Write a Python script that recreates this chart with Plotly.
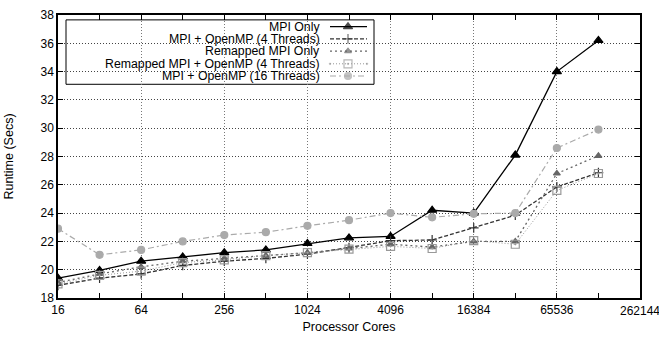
import math
import plotly.graph_objects as go

# Runtime measurements (seconds) versus processor cores
cores = [16, 32, 64, 128, 256, 512, 1024, 2048, 4096, 8192, 16384, 32768, 65536, 131072]
mpi_only = [19.4, 19.95, 20.6, 20.9, 21.2, 21.4, 21.85, 22.25, 22.35, 24.2, 24.0, 28.1, 34.0, 36.2]
mpi_omp4 = [18.9, 19.4, 19.7, 20.3, 20.6, 20.8, 21.1, 21.55, 22.05, 22.1, 22.95, 23.85, 25.85, 26.85]
remap_mpi = [19.1, 19.7, 20.2, 20.6, 20.8, 21.0, 21.2, 21.5, 21.8, 21.6, 22.0, 22.0, 26.8, 28.05]
remap_omp4 = [19.0, 19.6, 19.9, 20.5, 20.7, 21.0, 21.2, 21.45, 21.65, 21.5, 22.05, 21.8, 25.6, 26.8]
mpi_omp16 = [22.9, 21.05, 21.4, 22.0, 22.45, 22.65, 23.1, 23.5, 24.0, 23.7, 23.95, 24.0, 28.6, 29.9]

major_x = [16, 64, 256, 1024, 4096, 16384, 65536, 262144]
minor_x = [32, 128, 512, 2048, 8192, 32768, 131072]
y_ticks = list(range(18, 39, 2))

FONT = "Liberation Sans, Arial, Helvetica, sans-serif"

series = [
    dict(name="MPI Only", y=mpi_only, color="#000000", dash="solid",
         symbol="triangle-up", size=8, width=1.3),
    dict(name="MPI + OpenMP (4 Threads)", y=mpi_omp4, color="#333333", dash="4px,2px",
         symbol="cross-thin-open", size=7, width=1.3),
    dict(name="Remapped MPI Only", y=remap_mpi, color="#666666", dash="2px,3px",
         symbol="triangle-up", size=6, width=1.3),
    dict(name="Remapped MPI + OpenMP (4 Threads)", y=remap_omp4, color="#999999", dash="1px,2px",
         symbol="square-open-dot", size=8, width=1.0),
    dict(name="MPI + OpenMP (16 Threads)", y=mpi_omp16, color="#aaaaaa", dash="6px,3px,2px,3px",
         symbol="circle", size=7, width=1.2),
]

fig = go.Figure()

for s in series:
    fig.add_trace(go.Scatter(
        x=cores, y=s["y"], name=s["name"], mode="lines+markers",
        line=dict(color=s["color"], dash=s["dash"], width=s["width"]),
        marker=dict(symbol=s["symbol"], size=s["size"], color=s["color"],
                    line=dict(color=s["color"], width=1.2)),
        showlegend=False,
    ))

# Key box drawn in pixel-like coordinates on an overlay axis pair
L, R, T, B = 58, 640, 8, 298
box = dict(x0=66, x1=374, y0=13, y1=79)
row_y = [20, 32.5, 45, 58, 70.5]
text_right = 321
sample_x = [330, 348, 367]

fig.add_shape(type="rect", xref="x3", yref="y3", x0=box["x0"], x1=box["x1"],
              y0=box["y0"], y1=box["y1"], line=dict(color="black", width=1),
              fillcolor="white", layer="below")

for s, ry in zip(series, row_y):
    fig.add_trace(go.Scatter(
        x=sample_x, y=[ry] * 3, mode="lines+markers", xaxis="x3", yaxis="y3",
        line=dict(color=s["color"], dash=s["dash"], width=s["width"]),
        marker=dict(symbol=s["symbol"], size=[0, s["size"], 0], color=s["color"],
                    line=dict(color=s["color"], width=1.2)),
        showlegend=False, hoverinfo="skip",
    ))
    fig.add_annotation(x=text_right, y=ry, xref="x3", yref="y3", text=s["name"],
                       showarrow=False, xanchor="right", yanchor="middle", borderpad=0,
                       font=dict(family=FONT, size=12.3, color="black"))

# The last x tick label sits on the right frame edge and runs off the page
fig.add_annotation(x=math.log10(major_x[-1]), y=0, xref="x", yref="paper",
                   text=str(major_x[-1]), showarrow=False, xanchor="center",
                   yanchor="top", yshift=-4, font=dict(family=FONT, size=12, color="black"))

fig.update_layout(
    width=659, height=343,
    margin=dict(l=L, r=659 - R, t=T, b=343 - B),
    paper_bgcolor="white", plot_bgcolor="white",
    font=dict(family=FONT, size=12, color="black"),
    showlegend=False,
    xaxis=dict(
        type="log", range=[1.20412, 5.41854],
        tickvals=major_x, ticktext=[str(v) for v in major_x[:-1]] + [""],
        ticks="inside", ticklen=5, tickcolor="black",
        showline=True, linecolor="black", linewidth=1.5, mirror="ticks",
        showgrid=True, gridcolor="#777777", griddash="1px,2px", gridwidth=1,
        minor=dict(tickvals=minor_x, ticks="inside", ticklen=5, tickcolor="black",
                   showgrid=False),
        title=dict(text="Processor Cores", font=dict(size=12.5), standoff=6),
        zeroline=False,
    ),
    yaxis=dict(
        range=[18, 38], tickvals=y_ticks,
        ticks="inside", ticklen=5, tickcolor="black",
        showline=True, linecolor="black", linewidth=1.5, mirror="ticks",
        showgrid=True, gridcolor="#444444", griddash="1px,2px", gridwidth=1,
        title=dict(text="Runtime (Secs)", font=dict(size=12.5), standoff=24),
        zeroline=False,
    ),
    xaxis3=dict(overlaying="x", range=[L, R], visible=False, fixedrange=True),
    yaxis3=dict(overlaying="y", range=[B, T], visible=False, fixedrange=True),
)

fig.write_html("out.html")
